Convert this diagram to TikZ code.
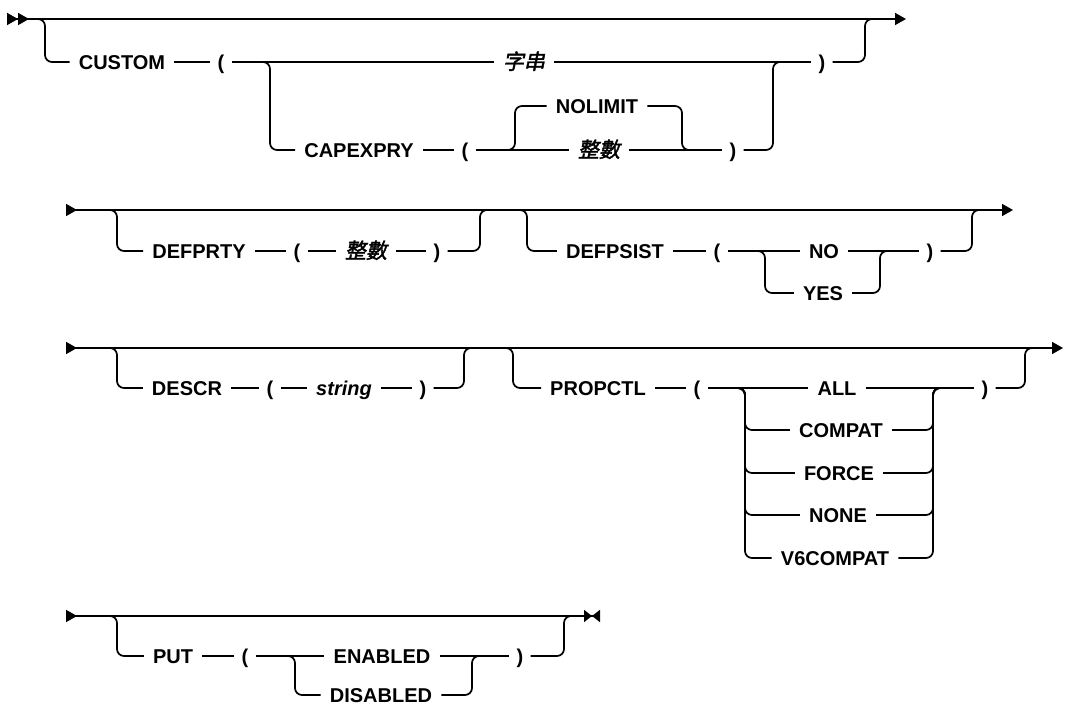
\documentclass[tikz,border=0pt]{standalone}
\usepackage{fontspec}
\setmainfont{Liberation Sans}
\newfontfamily\cjk[FakeSlant=0.2,FakeBold=2]{Noto Sans CJK TC}
\usetikzlibrary{arrows.meta,positioning}
\newcommand{\kwfont}{\fontsize{20}{24}\selectfont\bfseries}

\begin{document}
\begin{tikzpicture}[
  x=1pt, y=-1pt,
  >={Triangle[length=11pt,width=12pt]},
  rr/.style={line width=1.7pt, rounded corners=7pt},
  kw/.style={font=\kwfont, text height=14.5pt, text depth=0pt, inner xsep=9pt, inner ysep=0pt},
  var/.style={kw, font=\kwfont\itshape},
  cjv/.style={kw, font=\fontsize{21}{24}\selectfont\cjk},
  par/.style={kw, inner xsep=7pt}
]
\useasboundingbox (0,0) rectangle (1065,708);

\coordinate (in1) at (7,19);
\coordinate (out1) at (906,19);
\coordinate (d1) at (45,19);
\coordinate (d2) at (270,62);
\coordinate (u1) at (515,150);
\coordinate (j1) at (682,150);
\coordinate (j2) at (773,62);
\coordinate (j3) at (865,19);
\node[kw] (custom) at (122,62) {CUSTOM};
\node[par] (lpA) at (221,62) {(};
\node[cjv] (str1) at (524,62) {字串};
\node[par] (rpA) at (822,62) {)};
\node[kw] (capexpry) at (359,150) {CAPEXPRY};
\node[par] (lpB) at (465,150) {(};
\node[kw] (nolimit) at (597,106) {NOLIMIT};
\node[cjv] (int1) at (599,150) {整數};
\node[par] (rpB) at (733,150) {)};
\draw[rr, {>>}->] (in1) -- (out1);
\draw[rr] ([xshift=-10pt]d1) -| (d1 |- custom) -- (custom);
\draw[rr] (custom) -- (lpA);
\draw[rr] (lpA) -- (str1);
\draw[rr] (str1) -- (rpA);
\draw[rr] ([xshift=-10pt]d2) -| (d2 |- capexpry) -- (capexpry);
\draw[rr] (capexpry) -- (lpB);
\draw[rr] (lpB) -- (int1);
\draw[rr] ([xshift=-10pt]u1) -| (u1 |- nolimit) -- (nolimit);
\draw[rr] (int1) -- (rpB);
\draw[rr] (nolimit) -| (j1) -- ([xshift=10pt]j1);
\draw[rr] (rpB) -| (j2) -- ([xshift=10pt]j2);
\draw[rr] (rpA) -| (j3) -- ([xshift=10pt]j3);

\coordinate (in2) at (66,210);
\coordinate (out2) at (1013,210);
\coordinate (d3) at (117,210);
\coordinate (j4) at (480,210);
\coordinate (d4) at (527,210);
\coordinate (d5) at (765,251);
\coordinate (j5) at (880,251);
\coordinate (j6) at (972,210);
\node[kw] (defprty) at (199,251) {DEFPRTY};
\node[par] (lpC) at (297,251) {(};
\node[cjv] (int2) at (366,251) {整數};
\node[par] (rpC) at (437,251) {)};
\node[kw] (defpsist) at (615,251) {DEFPSIST};
\node[par] (lpD) at (717,251) {(};
\node[kw] (no) at (824,251) {NO};
\node[kw] (yes) at (823,293) {YES};
\node[par] (rpD) at (930,251) {)};
\draw[rr, {>}->] (in2) -- (out2);
\draw[rr] ([xshift=-10pt]d3) -| (d3 |- defprty) -- (defprty);
\draw[rr] (defprty) -- (lpC);
\draw[rr] (lpC) -- (int2);
\draw[rr] (int2) -- (rpC);
\draw[rr] (rpC) -| (j4) -- ([xshift=10pt]j4);
\draw[rr] ([xshift=-10pt]d4) -| (d4 |- defpsist) -- (defpsist);
\draw[rr] (defpsist) -- (lpD);
\draw[rr] (lpD) -- (no);
\draw[rr] ([xshift=-10pt]d5) -| (d5 |- yes) -- (yes);
\draw[rr] (no) -- (rpD);
\draw[rr] (yes) -| (j5) -- ([xshift=10pt]j5);
\draw[rr] (rpD) -| (j6) -- ([xshift=10pt]j6);

\coordinate (in3) at (66,348);
\coordinate (out3) at (1063,348);
\coordinate (d6) at (117,348);
\coordinate (j7) at (464,348);
\coordinate (d7) at (513,348);
\coordinate (d8) at (745,388);
\coordinate (j8) at (933,388);
\coordinate (j9) at (1025,348);
\node[kw] (descr) at (187,388) {DESCR};
\node[par] (lpE) at (270,388) {(};
\node[var] (str2) at (344,388) {string};
\node[par] (rpE) at (423,388) {)};
\node[kw] (propctl) at (598,388) {PROPCTL};
\node[par] (lpF) at (697,388) {(};
\node[kw] (all) at (837,388) {ALL};
\node[kw] (compat) at (841,430) {COMPAT};
\node[kw] (force) at (839,473) {FORCE};
\node[kw] (none) at (838,515) {NONE};
\node[kw] (v6compat) at (835,558) {V6COMPAT};
\node[par] (rpF) at (985,388) {)};
\draw[rr, {>}->] (in3) -- (out3);
\draw[rr] ([xshift=-10pt]d6) -| (d6 |- descr) -- (descr);
\draw[rr] (descr) -- (lpE);
\draw[rr] (lpE) -- (str2);
\draw[rr] (str2) -- (rpE);
\draw[rr] (rpE) -| (j7) -- ([xshift=10pt]j7);
\draw[rr] ([xshift=-10pt]d7) -| (d7 |- propctl) -- (propctl);
\draw[rr] (propctl) -- (lpF);
\draw[rr] (lpF) -- (all);
\draw[rr] (all) -- (rpF);
\foreach \opt in {compat,force,none,v6compat} {
  \draw[rr] ([xshift=-10pt]d8) -| (d8 |- \opt) -- (\opt);
  \draw[rr] (\opt) -| (j8) -- ([xshift=10pt]j8);
}
\draw[rr] (rpF) -| (j9) -- ([xshift=10pt]j9);

\coordinate (in4) at (66,616);
\coordinate (out4) at (600,616);
\coordinate (d9) at (117,616);
\coordinate (d10) at (295,656);
\coordinate (j10) at (472,656);
\coordinate (j11) at (564,616);
\node[kw] (put) at (173,656) {PUT};
\node[par] (lpG) at (245,656) {(};
\node[kw] (enabled) at (382,656) {ENABLED};
\node[kw] (disabled) at (381,695) {DISABLED};
\node[par] (rpG) at (520,656) {)};
\draw[rr, {>}-{Triangle[length=8pt,width=12pt]Triangle[length=8pt,width=12pt,reversed]}] (in4) -- (out4);
\draw[rr] ([xshift=-10pt]d9) -| (d9 |- put) -- (put);
\draw[rr] (put) -- (lpG);
\draw[rr] (lpG) -- (enabled);
\draw[rr] ([xshift=-10pt]d10) -| (d10 |- disabled) -- (disabled);
\draw[rr] (enabled) -- (rpG);
\draw[rr] (disabled) -| (j10) -- ([xshift=10pt]j10);
\draw[rr] (rpG) -| (j11) -- ([xshift=10pt]j11);
\end{tikzpicture}
\end{document}
